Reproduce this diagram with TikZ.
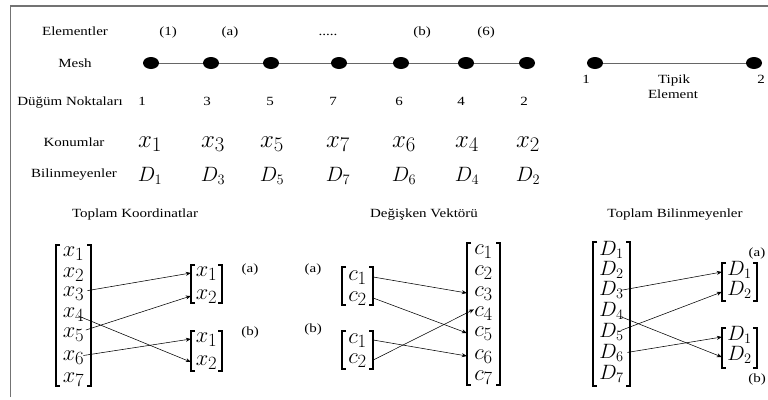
\documentclass[tikz,border=0pt]{standalone}
\usepackage{fontspec}
\setmainfont[FakeStretch=1.2]{Liberation Serif}
\usetikzlibrary{arrows.meta,shapes.geometric}
\newcommand\mv[1]{$#1$}
\newcommand\ms[1]{\scalebox{0.9}{$#1$}}
\newcommand\brkt[4]{%
  \draw[brk] (#1+4,#3) -- (#1,#3) -- (#1,#4) -- (#1+4,#4);
  \draw[brk] (#2-4,#3) -- (#2,#3) -- (#2,#4) -- (#2-4,#4);}
\begin{document}
\begin{tikzpicture}[x=1pt,y=-1pt,
  lbl/.style={font=\fontsize{12.5}{14}\selectfont, inner sep=0, anchor=base},
  mrow/.style={font=\fontsize{24.88}{26}\selectfont, inner sep=0, anchor=base},
  drow/.style={font=\fontsize{20.74}{22}\selectfont, inner sep=0, anchor=base},
  ent/.style={font=\fontsize{24.88}{26}\selectfont, inner sep=0, text height=9pt, text depth=3pt},
  dent/.style={font=\fontsize{20.74}{22}\selectfont, inner sep=0, text height=9pt, text depth=3pt},
  dotnode/.style={ellipse, fill=black, minimum width=16pt, minimum height=12pt, inner sep=0},
  meshline/.style={draw=black!60, line width=0.8pt},
  frame/.style={draw=black!55, line width=1.5pt},
  brk/.style={line width=1.2pt},
  arr/.style={-{Stealth[length=5pt,width=4pt]}, line width=0.55pt},
]
\useasboundingbox (0,0) rectangle (768,399);
\draw[frame] (10.5,397) -- (10.5,6) -- (768,6);

% row labels
\node[lbl] (lE) at (75,35) {Elementler};
\node[lbl] (lM) at (75,67) {Mesh};
\node[lbl] (lD) at (70,105) {Düğüm Noktaları};
\node[lbl] (lK) at (74,146) {Konumlar};
\node[lbl] (lB) at (74,177) {Bilinmeyenler};

% elements
\node[lbl] (e1) at (168,35) {(1)};
\node[lbl] (ea) at (230,35) {(a)};
\node[lbl] (ed) at (328,35) {.....};
\node[lbl] (eb) at (422,35) {(b)};
\node[lbl] (e6) at (486,35) {(6)};

% mesh
\foreach \n/\x in {1/151,3/211,5/271,7/339,6/401,4/466,2/527}
  \node[dotnode] (m\n) at (\x,63) {};
\draw[meshline] (m1) -- (m3);
\draw[meshline] (m3) -- (m5);
\draw[meshline] (m5) -- (m7);
\draw[meshline] (m7) -- (m6);
\draw[meshline] (m6) -- (m4);
\draw[meshline] (m4) -- (m2);

% typical element
\node[dotnode] (t1) at (595,63) {};
\node[dotnode] (t2) at (754,63) {};
\draw[meshline] (t1) -- (t2);
\node[lbl] (tn1) at (586,83) {1};
\node[lbl] (tn2) at (761,83) {2};
\node[lbl] (tt) at (674,83) {Tipik};
\node[lbl] (te) at (673,98) {Element};

% node numbers, positions, unknowns
\foreach \n/\xn/\xm in {1/142/150,3/207/213,5/270/272,7/333/338,6/399/404,4/461/467,2/524/528}{
  \node[lbl] (n\n) at (\xn,105) {\n};
  \node[mrow] (k\n) at (\xm,147) {\mv{x_\n}};
  \node[drow] (b\n) at (\xm,181) {\mv{D_\n}};
}

% titles
\node[lbl] (T1) at (135,217) {Toplam Koordinatlar};
\node[lbl] (T2) at (424,217) {Değişken Vektörü};
\node[lbl] (T3) at (675,217) {Toplam Bilinmeyenler};

% left group
\foreach \i/\y in {1/253,2/274,3/293,4/314,5/334,6/357,7/379}
  \node[ent, minimum width=35pt] (X\i) at (73.5,\y) {\ms{x_\i}};
\brkt{56}{91}{245}{386}
\node[ent, minimum width=31pt] (A1) at (206.5,273) {\ms{x_1}};
\node[ent, minimum width=31pt] (A2) at (206.5,296) {\ms{x_2}};
\brkt{191}{222}{265}{303}
\node[ent, minimum width=31pt] (B1) at (206.5,339) {\ms{x_1}};
\node[ent, minimum width=31pt] (B2) at (206.5,362) {\ms{x_2}};
\brkt{191}{222}{331}{371}
\node[lbl] (la) at (250,272) {(a)};
\node[lbl] (lb) at (250,335) {(b)};
\draw[arr, shorten <=14pt] (X3.center) -- (A1.west);
\draw[arr, shorten <=13pt] (X5.center) -- (A2.west);
\draw[arr, shorten <=5pt] (X4.center) -- (B2.west);
\draw[arr, shorten <=10pt] (X6.center) -- (B1.west);

% middle group
\node[ent, minimum width=31pt] (AC1) at (357.5,277) {\ms{c_1}};
\node[ent, minimum width=31pt] (AC2) at (357.5,298) {\ms{c_2}};
\brkt{342}{373}{267}{305}
\node[ent, minimum width=31pt] (BC1) at (357.5,340) {\ms{c_1}};
\node[ent, minimum width=31pt] (BC2) at (357.5,360) {\ms{c_2}};
\brkt{342}{373}{331}{369}
\foreach \i/\y in {1/251,2/272,3/293,4/313,5/333,6/356,7/377}
  \node[ent, minimum width=33pt] (C\i) at (483.5,\y) {\ms{c_\i}};
\brkt{467}{500}{243}{385}
\node[lbl] (lma) at (313,272) {(a)};
\node[lbl] (lmb) at (313,332) {(b)};
\draw[arr] (AC1.east) -- (C3.west);
\draw[arr] (AC2.east) -- (C5.west);
\draw[arr] (BC1.east) -- (C6.west);
\draw[arr, shorten >=-8pt] (BC2.east) -- (C4.west);

% right group
\foreach \i/\y in {1/252,2/272,3/292,4/313,5/334,6/355,7/376}
  \node[dent, minimum width=37pt] (D\i) at (611.5,\y) {\mv{D_\i}};
\brkt{593}{630}{242}{386}
\node[dent, minimum width=35pt] (AD1) at (739.5,272) {\mv{D_1}};
\node[dent, minimum width=35pt] (AD2) at (739.5,292) {\mv{D_2}};
\brkt{722}{757}{263}{301}
\node[dent, minimum width=35pt] (BD1) at (739.5,337) {\mv{D_1}};
\node[dent, minimum width=35pt] (BD2) at (739.5,357) {\mv{D_2}};
\brkt{722}{757}{328}{368}
\node[lbl] (lra) at (757,256) {(a)};
\node[lbl] (lrb) at (757,382) {(b)};
\draw[arr, shorten <=11pt] (D3.center) -- (AD1.west);
\draw[arr, shorten <=10pt] (D5.center) -- (AD2.west);
\draw[arr, shorten <=11pt] (D4.center) -- (BD2.west);
\draw[arr, shorten <=16pt] (D6.center) -- (BD1.west);
\end{tikzpicture}
\end{document}
